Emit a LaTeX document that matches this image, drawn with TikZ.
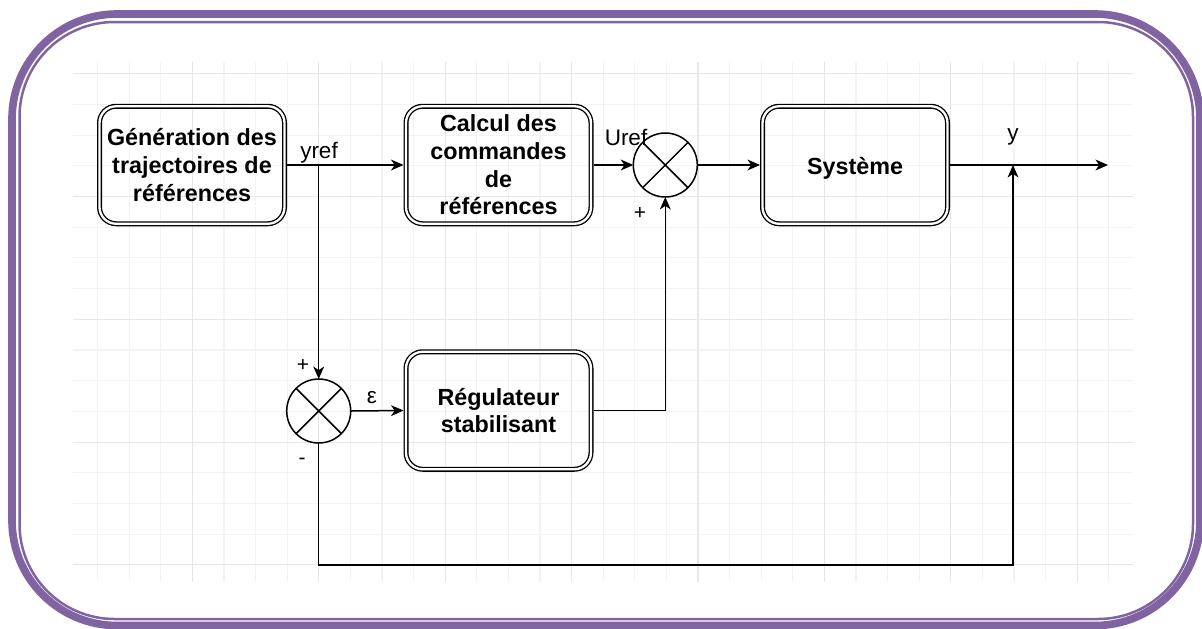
\documentclass[tikz,border=0pt]{standalone}
\usepackage{fontspec}
\setmainfont{Liberation Sans}
\usetikzlibrary{arrows.meta,calc}
\definecolor{framecol}{HTML}{8064A2}
\definecolor{gridminor}{HTML}{F3F3F3}
\definecolor{gridmajor}{HTML}{E7E7E7}
\begin{document}
\begin{tikzpicture}[x=0.6pt,y=-0.6pt,
  block/.style={draw, double, double distance=1.4pt, line width=0.8pt, rounded corners=10pt,
    minimum width=111pt, minimum height=70.5pt, align=center,
    font=\bfseries\fontsize{14}{16.6}\selectfont, inner sep=0pt, outer sep=1.5pt},
  sumnode/.style={draw, circle, line width=0.9pt, minimum size=38.4pt, inner sep=0pt, outer sep=0pt},
  conn/.style={line width=0.9pt, -{Stealth[length=7.5pt,width=6.5pt,inset=2.2pt]}},
  wire/.style={line width=0.9pt},
  lbl/.style={font=\fontsize{13.5}{16}\selectfont, inner sep=0pt},
  sgn/.style={font=\fontsize{12.5}{14}\selectfont, inner sep=0pt}]

\useasboundingbox (0,0) rectangle (1202,628);

% grid
\foreach \k in {1,...,33} {
  \draw[gridminor, line width=0.7pt] ({66+\k*31.6},61.7) -- ({66+\k*31.6},581.7);
}
\foreach \k in {0,...,16} {
  \draw[gridminor, line width=0.7pt] (73.3,{73.7+\k*30.7}) -- (1133.3,{73.7+\k*30.7});
}
\foreach \k in {4,8,...,32} {
  \draw[gridmajor, line width=0.7pt] ({66+\k*31.6},61.7) -- ({66+\k*31.6},581.7);
}
\foreach \k in {0,4,...,16} {
  \draw[gridmajor, line width=0.7pt] (73.3,{73.7+\k*30.7}) -- (1133.3,{73.7+\k*30.7});
}

% frame
\draw[framecol, line width=4.6pt, rounded corners=63pt] (12,14) rectangle (1200,625.5);
\draw[framecol, line width=1.5pt, rounded corners=57pt] (19.5,22) rectangle (1193,619);

% blocks
\node[block] (gen) at (192,165) {Génération des\\trajectoires de\\références};
\node[block] (calc) at (498.5,165) {Calcul des\\commandes\\de\\références};
\node[block] (sys) at (855,165) {\raisebox{-5.5pt}[0pt][0pt]{Système}};
\node[block] (reg) at (498.5,410.5) {Régulateur\\stabilisant};

\node[sumnode] (s1) at (665.3,165) {};
\node[sumnode] (s2) at (318.7,411) {};
\draw[wire] (s1.north west) -- (s1.south east) (s1.north east) -- (s1.south west);
\draw[wire] (s2.north west) -- (s2.south east) (s2.north east) -- (s2.south west);

\coordinate (j1) at (318.7,165);
\coordinate (yj) at (1013,165);
\coordinate (out) at (1108,165);
\coordinate (fbl) at (318.7,565);
\coordinate (fbr) at (1013,565);

\draw[conn] (gen.east) -- (calc.west);
\draw[conn] (j1) -- (s2.north);
\draw[conn] (calc.east) -- (s1.west);
\draw[conn] (s1.east) -- (sys.west);
\draw[conn] (sys.east) -- (out);
\draw[conn] (s2.south) -- (fbl) -- (fbr) -- (yj);
\draw[conn] (s2.east) -- (reg.west);
\draw[conn] (reg.east) -| (s1.south);

% labels
\node[lbl] (lyref) at (319,153) {yref};
\node[lbl] (luref) at (626,137) {Uref};
\node[lbl] (ly) at (1013,137) {y};
\node[lbl] (leps) at (372,398) {ε};
\node[sgn] (p1) at (640,213) {+};
\node[sgn] (p2) at (303,365) {+};
\node[sgn] (m2) at (302,461) {-};
\end{tikzpicture}
\end{document}
